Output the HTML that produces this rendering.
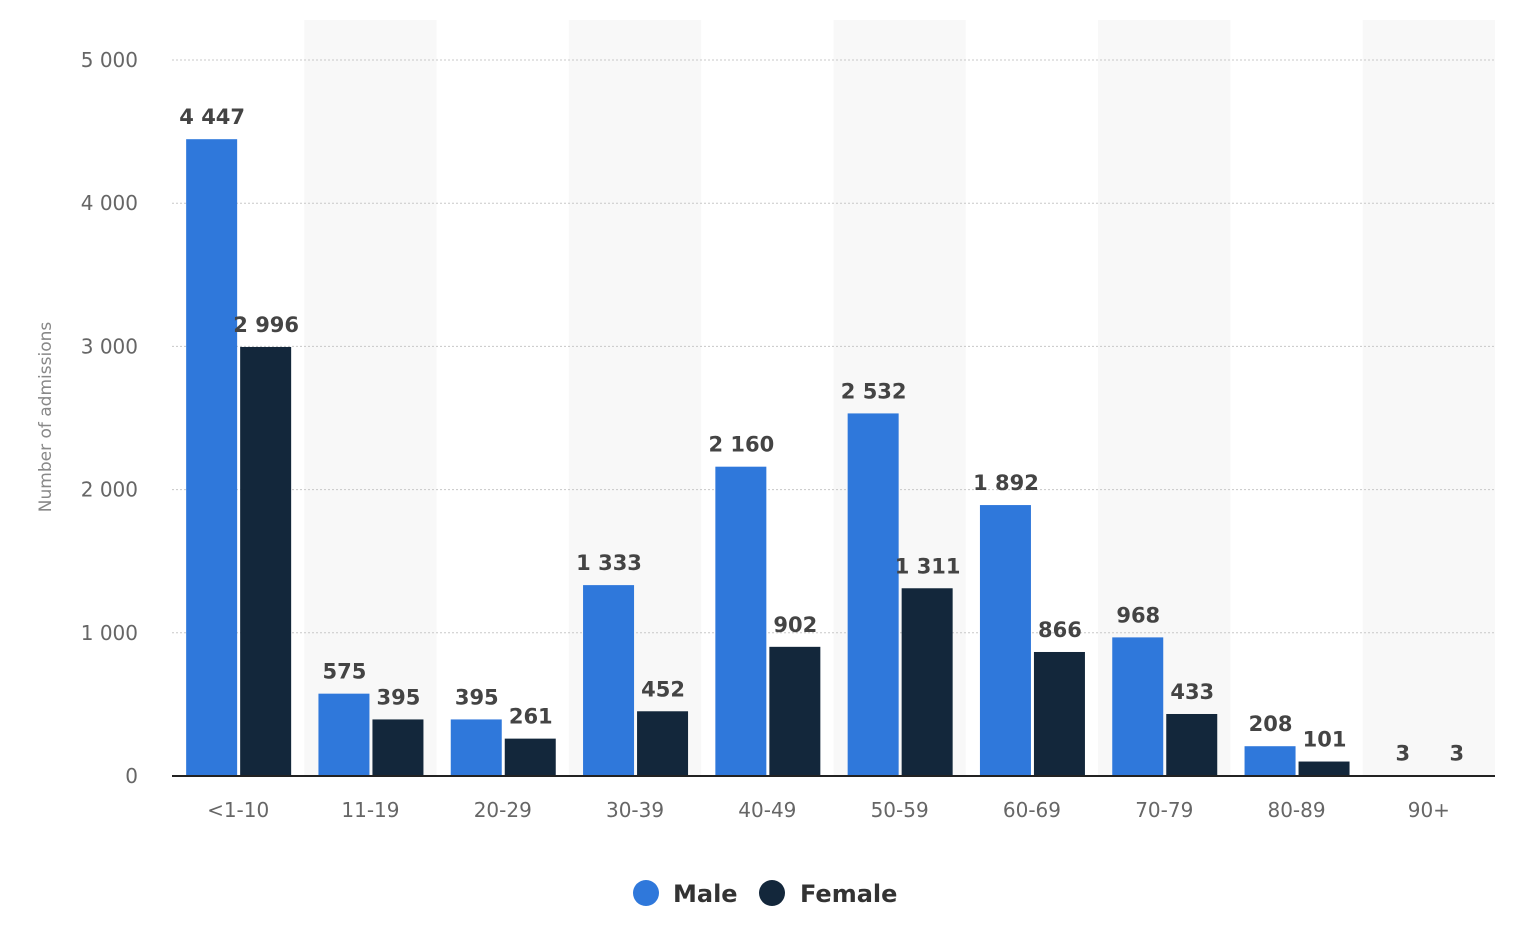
<!DOCTYPE html>
<html><head><meta charset="utf-8"><style>
html,body{margin:0;padding:0;background:#fff;}
svg{display:block;font-family:"DejaVu Sans","Liberation Sans",sans-serif;}
</style></head><body>
<svg id="chart" width="1522" height="948"></svg>
<script>
const categories=["<1-10","11-19","20-29","30-39","40-49","50-59","60-69","70-79","80-89","90+"];
const maleValues=[4447,575,395,1333,2160,2532,1892,968,208,3];
const femaleValues=[2996,395,261,452,902,1311,866,433,101,3];
const yTicks=[0,1000,2000,3000,4000,5000];
const yTickLabels=["0","1 000","2 000","3 000","4 000","5 000"];
const NS="http://www.w3.org/2000/svg";
const svg=document.getElementById('chart');
const L=172,R=1495,B=776,T=60,MAX=5000;
const bw=(R-L)/categories.length;
const y=v=>B-(v/MAX)*(B-T);
const xc=i=>L+bw*(i+0.5);
function mk(t,a,p){const e=document.createElementNS(NS,t);for(const k in a)e.setAttribute(k,a[k]);(p||svg).appendChild(e);return e;}
function fmt(v){return String(v).replace(/\B(?=(\d{3})+(?!\d))/g," ");}
categories.forEach((c,i)=>{if(i%2==1){const r=mk('rect',{x:L+bw*i,y:20,width:bw,height:B-20,fill:'#f8f8f8'});

}});
yTicks.forEach((v,i)=>{
 if(v>0){const g=mk('line',{x1:L,x2:R,y1:y(v),y2:y(v),stroke:'#c8c8c8','stroke-dasharray':'2,2'});
 
 }
 const t=mk('text',{x:138,y:y(v)+7,'text-anchor':'end','font-size':20,fill:'#666'});t.textContent=yTickLabels[i];
 
 
});
categories.forEach((c,i)=>{
 const cx=xc(i);
 const m=mk('rect',{x:cx-52,y:y(maleValues[i]),width:51,height:B-y(maleValues[i]),fill:'#2f78db'});
 
 
 const f=mk('rect',{x:cx+2,y:y(femaleValues[i]),width:51,height:B-y(femaleValues[i]),fill:'#13273b'});
 
 
 const ml=mk('text',{x:cx-26,y:y(maleValues[i])-15,'text-anchor':'middle','font-size':21,'font-weight':'bold',fill:'#444'});ml.textContent=fmt(maleValues[i]);
 
 
 const fl=mk('text',{x:cx+28,y:y(femaleValues[i])-15,'text-anchor':'middle','font-size':21,'font-weight':'bold',fill:'#444'});fl.textContent=fmt(femaleValues[i]);
 
 
 const xl=mk('text',{x:cx,y:817,'text-anchor':'middle','font-size':20,fill:'#666'});xl.textContent=c;
 
 
});
const ax=mk('line',{x1:L,x2:R,y1:B,y2:B,stroke:'#222','stroke-width':2});


const yt=mk('text',{x:0,y:0,transform:'translate(51,417) rotate(-90)','text-anchor':'middle','font-size':17,fill:'#888'});yt.textContent='Number of admissions';


const lg=mk('g',{});


[[646,673,'#2f78db','Male'],[772,800,'#13273b','Female']].forEach(d=>{
 const c=mk('circle',{cx:d[0],cy:893,r:13,fill:d[2]},lg);
 
 
 const t=mk('text',{x:d[1],y:902,'font-size':24,'font-weight':'bold',fill:'#333'},lg);t.textContent=d[3];
 
 
});
</script>
</body></html>
